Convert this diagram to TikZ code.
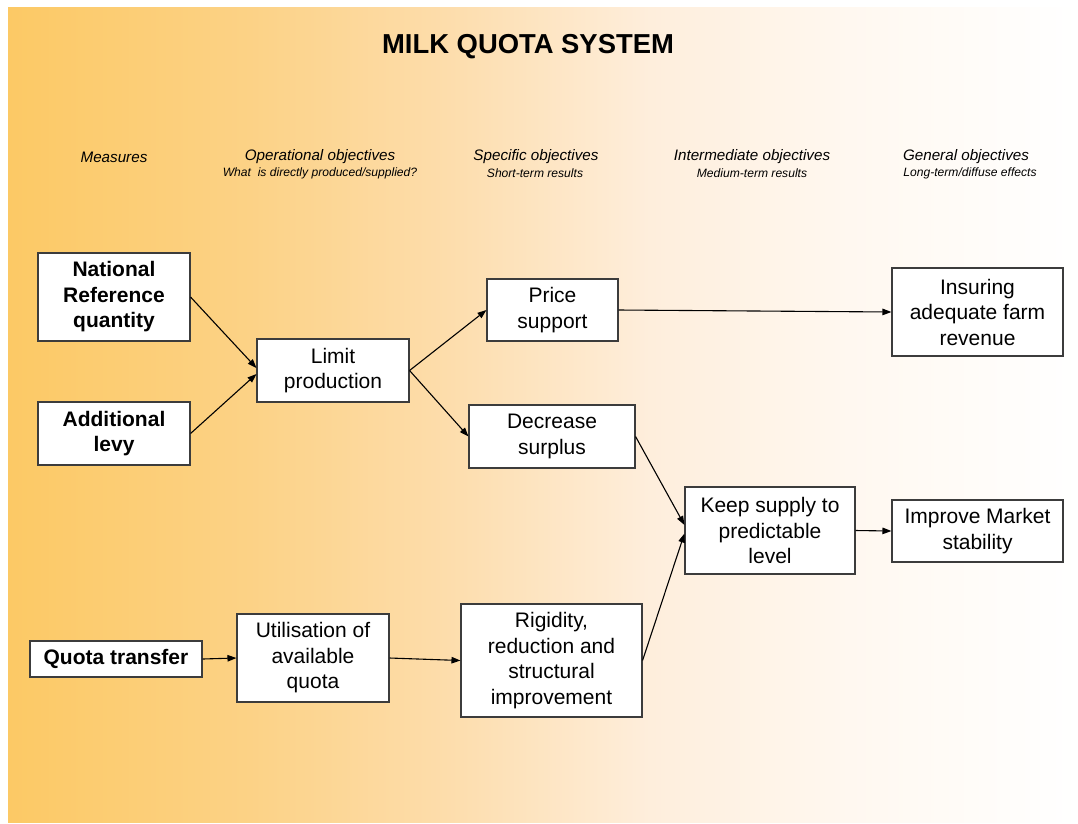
\documentclass[tikz,border=0pt]{standalone}
\usepackage{fontspec}
\setmainfont{Liberation Sans}
\usetikzlibrary{arrows.meta}
\definecolor{bgA}{RGB}{252,201,101}
\definecolor{bgB}{RGB}{252,210,134}
\definecolor{bgC}{RGB}{253,221,172}
\definecolor{bgD}{RGB}{254,238,220}
\definecolor{bgE}{RGB}{255,248,240}
\definecolor{boxline}{RGB}{60,60,60}
\pgfdeclarehorizontalshading{milkbg}{100bp}{color(0bp)=(bgA); color(25bp)=(bgA); color(36.3bp)=(bgB); color(45.6bp)=(bgC); color(55bp)=(bgD); color(64.3bp)=(bgE); color(75bp)=(white); color(100bp)=(white)}
\begin{document}
\begin{tikzpicture}[
  x=1pt, y=-1pt,
  box/.style={draw=boxline, line width=1.1pt, fill=white, align=center, inner sep=0pt, font=\fontsize{21}{25.5}\selectfont},
  measure/.style={box, font=\fontsize{21}{25.5}\selectfont\bfseries},
  head/.style={font=\fontsize{15.2}{16}\selectfont\itshape},
  subhead/.style={font=\fontsize{12.1}{13}\selectfont\itshape},
  arr/.style={-{Triangle[length=9pt,width=6.5pt]}, line width=1.1pt}
]
\useasboundingbox (0,0) rectangle (1078,823);
\shade[shading=milkbg] (8,7) rectangle (1078,822);

\node[font=\fontsize{27.4}{30}\selectfont\bfseries] (title) at (528,47) {MILK QUOTA SYSTEM};

\node[head] (hmeas) at (114,157) {Measures};
\node[head] (hoper) at (320,157) {Operational objectives};
\node[subhead] (soper) at (320,173) {What\ \ is directly produced/supplied?};
\node[head] (hspec) at (536,157) {Specific objectives};
\node[subhead] (sspec) at (535,173) {Short-term results};
\node[head] (hinter) at (752,157) {Intermediate objectives};
\node[subhead] (sinter) at (752,173) {Medium-term results};
\node[head] (hgen) at (966,157) {General objectives};
\node[subhead] (sgen) at (970,173) {Long-term/diffuse effects};

\node[measure, minimum width=152pt, minimum height=88pt] (nrq) at (114,297) {National\\Reference\\quantity};
\node[measure, minimum width=152pt, minimum height=63pt] (levy) at (114,433.5) {Additional\\levy};
\node[measure, minimum width=172pt, minimum height=36pt] (transfer) at (116,659) {Quota transfer};
\node[box, minimum width=152pt, minimum height=63pt] (limit) at (333,370.5) {Limit\\production};
\node[box, minimum width=152pt, minimum height=88pt] (utilise) at (313,658) {Utilisation of\\available\\quota};
\node[box, minimum width=131pt, minimum height=62pt] (price) at (552.5,310) {Price\\support};
\node[box, minimum width=166pt, minimum height=63pt] (surplus) at (552,436.5) {Decrease\\surplus};
\node[box, minimum width=181pt, minimum height=113pt] (rigid) at (551.5,660.5) {Rigidity,\\reduction and\\structural\\improvement};
\node[box, minimum width=170pt, minimum height=87pt] (supply) at (770,530.5) {Keep supply to\\predictable\\level};
\node[box, minimum width=171pt, minimum height=88pt] (revenue) at (977.5,312) {Insuring\\adequate farm\\revenue};
\node[box, minimum width=171pt, minimum height=62pt] (stable) at (977.5,531) {Improve Market\\stability};

\draw[arr] (nrq.east) -- ([yshift=2.5pt]limit.west);
\draw[arr] (levy.east) -- ([yshift=-3.5pt]limit.west);
\draw[arr] (limit.east) -- (price.west);
\draw[arr] (limit.east) -- (surplus.west);
\draw[arr] (price.east) -- (revenue.west);
\draw[arr] (surplus.east) -- ([yshift=5.5pt]supply.west);
\draw[arr] (rigid.east) -- ([yshift=-3pt]supply.west);
\draw[arr] (supply.east) -- (stable.west);
\draw[arr] (transfer.east) -- (utilise.west);
\draw[arr] (utilise.east) -- (rigid.west);
\end{tikzpicture}
\end{document}
